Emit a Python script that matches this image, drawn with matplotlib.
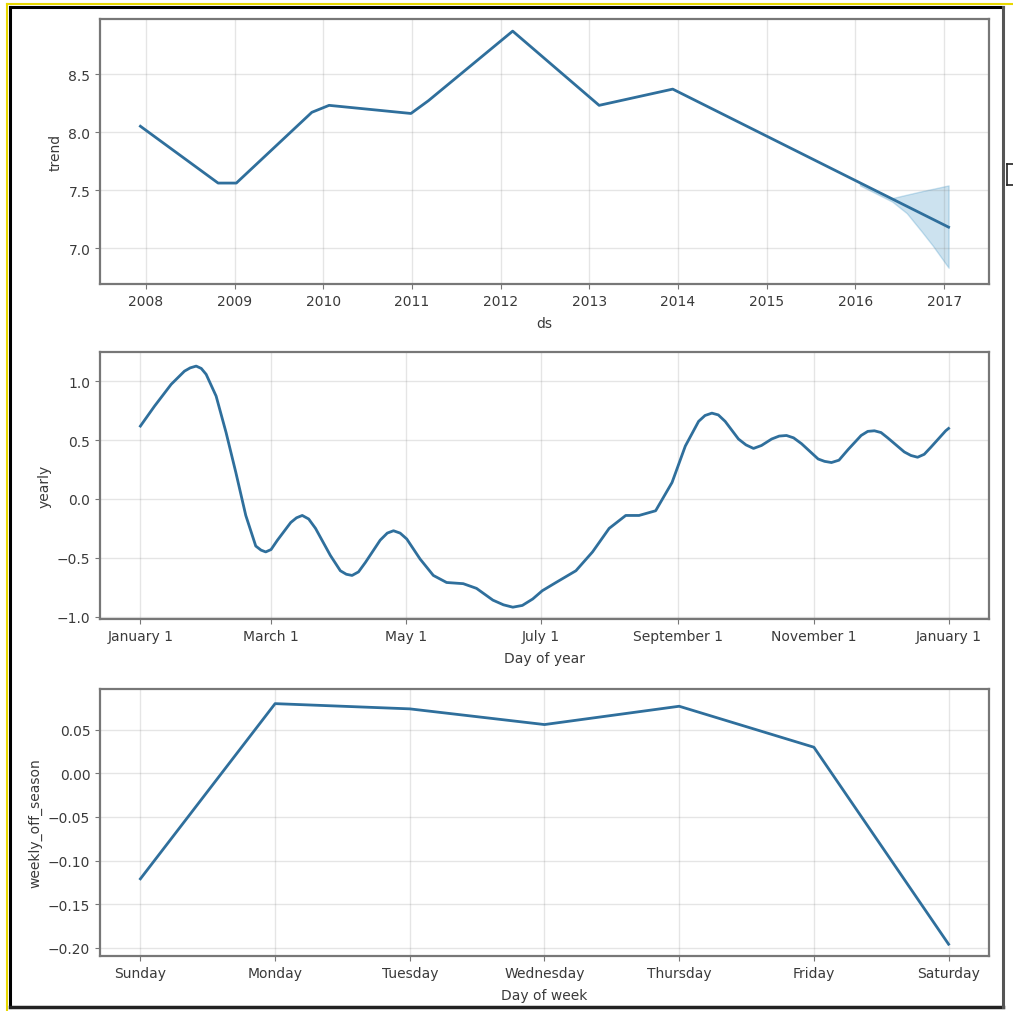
import numpy as np
import pandas as pd
import matplotlib
matplotlib.use('Agg')
import matplotlib.pyplot as plt
import matplotlib.dates as mdates
from matplotlib.lines import Line2D

# --------------------------------------------------
# Data (Prophet components)
# --------------------------------------------------
trend_ds = ['2007-12-10', '2008-10-25', '2009-01-08', '2009-11-15', '2010-01-25',
            '2010-12-28', '2011-03-10', '2012-02-20', '2013-02-10', '2013-12-10',
            '2017-01-19']
trend_val = [8.05, 7.56, 7.56, 8.17, 8.23, 8.16, 8.27, 8.87, 8.23, 8.37, 7.18]

band_ds = ['2016-01-20', '2016-06-01', '2016-07-31', '2016-10-01', '2016-11-15', '2017-01-19']
band_upper = [7.56, 7.43, 7.46, 7.49, 7.51, 7.54]
band_lower = [7.54, 7.40, 7.30, 7.14, 7.02, 6.83]

yearly_day = [0, 6.4, 13.9, 19.9, 22.5, 25.2, 27.5, 29.7, 34.2, 38.7, 43.1, 47.6,
              52.1, 54.5, 56.6, 59.0, 61.9, 67.9, 70.5, 73.1, 76.0, 79.1, 85.8, 90.3,
              93.0, 95.6, 98.5, 101.6, 108.3, 111.5, 114.3, 117.3, 120.3, 126.3,
              132.3, 138.3, 145.8, 151.8, 159.2, 164.0, 168.2, 172.5, 177.2, 181.5,
              187.7, 196.7, 204.2, 211.7, 219.2, 225.2, 232.7, 240.1, 246.1, 252.1,
              255.0, 258.1, 261.0, 264.1, 270.1, 273.5, 276.9, 280.5, 285.1, 288.5,
              291.8, 295.0, 298.6, 306.1, 309.0, 312.1, 315.5, 319.6, 325.5, 328.5,
              331.5, 334.5, 337.5, 345.0, 348.0, 351.0, 354.0, 357.0, 363.7, 365]
yearly_val = [0.62, 0.79, 0.975, 1.087, 1.115, 1.13, 1.11, 1.06, 0.875, 0.565, 0.226,
              -0.14, -0.40, -0.435, -0.45, -0.43, -0.35, -0.20, -0.16, -0.14, -0.17,
              -0.25, -0.48, -0.61, -0.64, -0.65, -0.62, -0.54, -0.35, -0.29, -0.27,
              -0.29, -0.34, -0.51, -0.65, -0.71, -0.72, -0.76, -0.86, -0.90, -0.92,
              -0.905, -0.85, -0.78, -0.71, -0.61, -0.45, -0.25, -0.14, -0.14, -0.10,
              0.14, 0.45, 0.66, 0.71, 0.73, 0.715, 0.66, 0.51, 0.46, 0.43, 0.455,
              0.51, 0.535, 0.54, 0.52, 0.47, 0.34, 0.32, 0.31, 0.33, 0.42, 0.54,
              0.575, 0.58, 0.565, 0.52, 0.40, 0.37, 0.355, 0.38, 0.44, 0.58, 0.60]
month_ticks = [0, 59, 120, 181, 243, 304, 365]
month_labels = ['January 1', 'March 1', 'May 1', 'July 1', 'September 1',
                'November 1', 'January 1']

days = ['Sunday', 'Monday', 'Tuesday', 'Wednesday', 'Thursday', 'Friday', 'Saturday']
weekly_val = [-0.121, 0.080, 0.074, 0.056, 0.077, 0.030, -0.196]

# --------------------------------------------------
# Style
# --------------------------------------------------
line_c = '#2f6f9c'
fill_c = '#0072B2'
txt_c = '#3a3a3a'
plt.rcParams.update({
    'font.family': 'DejaVu Sans',
    'font.size': 10,
    'xtick.labelsize': 10,
    'ytick.labelsize': 10,
    'xtick.color': txt_c,
    'ytick.color': txt_c,
    'axes.labelcolor': txt_c,
})

fig = plt.figure(figsize=(10.13, 10.12), dpi=100)
ax1 = fig.add_axes([0.0987, 0.7184, 0.8776, 0.2619])
ax2 = fig.add_axes([0.0987, 0.3874, 0.8776, 0.2638])
ax3 = fig.add_axes([0.0987, 0.0543, 0.8776, 0.2638])


def style(ax):
    ax.grid(True, which='major', c='gray', ls='-', lw=1, alpha=0.2)
    for sp in ax.spines.values():
        sp.set_color('#777777')
        sp.set_linewidth(1.6)
    ax.tick_params(length=3.5, color='#777777')
    ax.xaxis.labelpad = 6


# trend
tds = pd.to_datetime(trend_ds)
bds = pd.to_datetime(band_ds)
ax1.plot(tds, trend_val, ls='-', c=line_c, lw=2, solid_joinstyle='round')
ax1.fill_between(bds, band_lower, band_upper, color=fill_c, alpha=0.2)
ax1.xaxis.set_major_locator(mdates.YearLocator())
ax1.xaxis.set_major_formatter(mdates.DateFormatter('%Y'))
ax1.set_ylim(6.69, 8.975)
ax1.set_yticks([7.0, 7.5, 8.0, 8.5])
ax1.set_xlabel('ds')
ax1.set_ylabel('trend')
style(ax1)

# yearly
ax2.plot(yearly_day, yearly_val, ls='-', c=line_c, lw=2, solid_joinstyle='round')
ax2.set_xticks(month_ticks)
ax2.set_xticklabels(month_labels)
ax2.set_ylim(-1.02, 1.25)
ax2.set_yticks([-1.0, -0.5, 0.0, 0.5, 1.0])
ax2.set_xlabel('Day of year')
ax2.set_ylabel('yearly')
style(ax2)

# weekly_off_season
ax3.plot(range(len(days)), weekly_val, ls='-', c=line_c, lw=2, solid_joinstyle='round')
ax3.set_xticks(range(len(days)))
ax3.set_xticklabels(days)
ax3.set_xlim(-0.3, 6.3)
ax3.set_ylim(-0.2096, 0.0967)
ax3.set_yticks([-0.20, -0.15, -0.10, -0.05, 0.00, 0.05])
ax3.set_xlabel('Day of week')
ax3.set_ylabel('weekly_off_season')
style(ax3)

# screenshot frame
W, H = 1013, 1012
def fline(x0, y0, x1, y1, c, lw):
    fig.add_artist(Line2D([x0 / W, x1 / W], [1 - y0 / H, 1 - y1 / H],
                          transform=fig.transFigure, color=c, lw=lw))

fline(7, 5, 1013, 5, '#e8d800', 1.5)
fline(7, 5, 7, 1012, '#e8d800', 1.5)
fline(10, 8, 1003, 8, 'black', 2.2)
fline(10, 8, 10, 1008, 'black', 2.2)
fline(10, 1008, 1003, 1008, '#222222', 2.5)
fline(1003, 8, 1003, 1008, '#555555', 2.2)
fline(1007, 165, 1013, 165, '#222222', 1.2)
fline(1007, 165, 1007, 186, '#222222', 1.2)
fline(1007, 186, 1013, 186, '#222222', 1.2)

fig.savefig('out.png', dpi=100)
